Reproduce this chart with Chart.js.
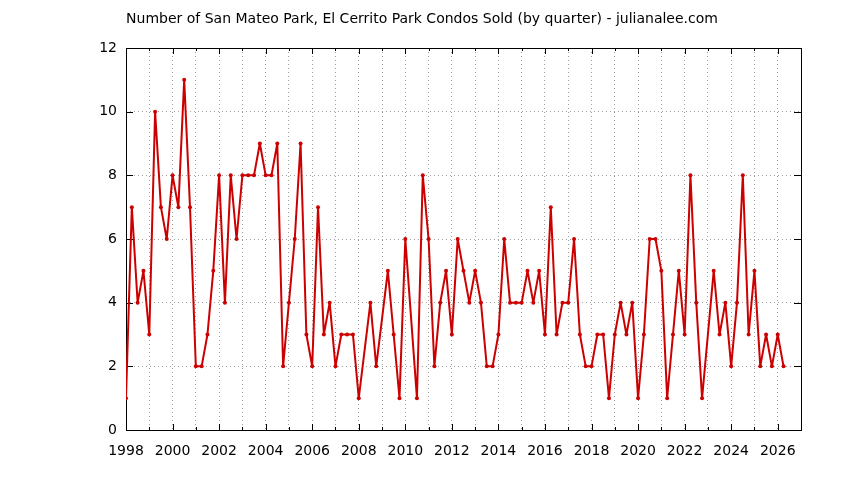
<!DOCTYPE html>
<html>
  <head>
    <meta charset="utf-8" />
    <title>Condos Sold</title>
    <script src="https://cdn.jsdelivr.net/npm/chart.js"></script>
    <style>
      body { margin: 0; background: #fff; }
    </style>
  </head>
  <body>
    <canvas id="soldChart" width="844" height="480"></canvas>
    <script>
      // Quarters that had sales (quarters with no row are just skipped, the line joins across them)
      var quarters = [
        "1998-Q1", "1998-Q2", "1998-Q3", "1998-Q4",
        "1999-Q1", "1999-Q2", "1999-Q3", "1999-Q4",
        "2000-Q1", "2000-Q2", "2000-Q3", "2000-Q4",
        "2001-Q1", "2001-Q2", "2001-Q3", "2001-Q4",
        "2002-Q1", "2002-Q2", "2002-Q3", "2002-Q4",
        "2003-Q1", "2003-Q2", "2003-Q3", "2003-Q4",
        "2004-Q1", "2004-Q2", "2004-Q3", "2004-Q4",
        "2005-Q1", "2005-Q2", "2005-Q3", "2005-Q4",
        "2006-Q1", "2006-Q2", "2006-Q3", "2006-Q4",
        "2007-Q1", "2007-Q2", "2007-Q3", "2007-Q4",
        "2008-Q1", "2008-Q3", "2008-Q4",
        "2009-Q2", "2009-Q3", "2009-Q4",
        "2010-Q1", "2010-Q3", "2010-Q4",
        "2011-Q1", "2011-Q2", "2011-Q3", "2011-Q4",
        "2012-Q1", "2012-Q2", "2012-Q3", "2012-Q4",
        "2013-Q1", "2013-Q2", "2013-Q3", "2013-Q4",
        "2014-Q1", "2014-Q2", "2014-Q3", "2014-Q4",
        "2015-Q1", "2015-Q2", "2015-Q3", "2015-Q4",
        "2016-Q1", "2016-Q2", "2016-Q3", "2016-Q4",
        "2017-Q1", "2017-Q2", "2017-Q3", "2017-Q4",
        "2018-Q1", "2018-Q2", "2018-Q3", "2018-Q4",
        "2019-Q1", "2019-Q2", "2019-Q3", "2019-Q4",
        "2020-Q1", "2020-Q2", "2020-Q3", "2020-Q4",
        "2021-Q1", "2021-Q2", "2021-Q3", "2021-Q4",
        "2022-Q1", "2022-Q2", "2022-Q3", "2022-Q4",
        "2023-Q2", "2023-Q3", "2023-Q4",
        "2024-Q1", "2024-Q2", "2024-Q3", "2024-Q4",
        "2025-Q1", "2025-Q2", "2025-Q3", "2025-Q4",
        "2026-Q1", "2026-Q2"
      ];

      var sold = [
        1, 7, 4, 5,
        3, 10, 7, 6,
        8, 7, 11, 7,
        2, 2, 3, 5,
        8, 4, 8, 6,
        8, 8, 8, 9,
        8, 8, 9, 2,
        4, 6, 9, 3,
        2, 7, 3, 4,
        2, 3, 3, 3,
        1, 4, 2,
        5, 3, 1,
        6, 1, 8,
        6, 2, 4, 5,
        3, 6, 5, 4,
        5, 4, 2, 2,
        3, 6, 4, 4,
        4, 5, 4, 5,
        3, 7, 3, 4,
        4, 6, 3, 2,
        2, 3, 3, 1,
        3, 4, 3, 4,
        1, 3, 6, 6,
        5, 1, 3, 5,
        3, 8, 4, 1,
        5, 3, 4,
        2, 4, 8, 3,
        5, 2, 3, 2,
        3, 2
      ];

      var xLabelYears = [1998, 2000, 2002, 2004, 2006, 2008, 2010, 2012, 2014, 2016, 2018, 2020, 2022, 2024, 2026];
      var yTickValues = [0, 2, 4, 6, 8, 10, 12];

      var titleText = "Number of San Mateo Park, El Cerrito Park Condos Sold (by quarter) - julianalee.com";

      // turn "1998-Q3" into 1998.5 so it sits on a linear year axis
      var points = quarters.map(function (q, i) {
        var parts = q.split("-Q");
        return { x: parseInt(parts[0]) + (parseInt(parts[1]) - 1) / 4, y: sold[i] };
      });

      var FONT = "'DejaVu Sans', Verdana, sans-serif";

      // gnuplot style box: solid border all round, ticks pointing inwards on every side
      var framePlugin = {
        id: "frame",
        beforeDatasetsDraw: function (chart) {
          var ctx = chart.ctx;
          var a = chart.chartArea;
          var xs = chart.scales.x;
          var ys = chart.scales.y;
          ctx.save();
          ctx.strokeStyle = "#000";
          ctx.lineWidth = 1;
          ctx.beginPath();
          for (var yr = xs.min; yr <= xs.max; yr++) {
            var px = Math.round(xs.getPixelForValue(yr)) + 0.5;
            var len = xLabelYears.indexOf(yr) >= 0 ? 6 : 3;
            ctx.moveTo(px, a.bottom);
            ctx.lineTo(px, a.bottom - len);
            ctx.moveTo(px, a.top);
            ctx.lineTo(px, a.top + len);
          }
          yTickValues.forEach(function (v) {
            var py = Math.round(ys.getPixelForValue(v)) + 0.5;
            ctx.moveTo(a.left, py);
            ctx.lineTo(a.left + 7, py);
            ctx.moveTo(a.right, py);
            ctx.lineTo(a.right - 7, py);
          });
          ctx.stroke();
          ctx.strokeRect(Math.round(a.left) + 0.5, Math.round(a.top) + 0.5,
            Math.round(a.right - a.left), Math.round(a.bottom - a.top));
          ctx.restore();
        }
      };

      new Chart(document.getElementById("soldChart"), {
        type: "line",
        data: {
          datasets: [
            {
              label: "Condos sold",
              data: points,
              borderColor: "#cc0000",
              backgroundColor: "#cc0000",
              borderWidth: 2,
              borderJoinStyle: "round",
              pointRadius: 2,
              pointHoverRadius: 2,
              pointBorderWidth: 0,
              tension: 0,
              fill: false
            }
          ]
        },
        options: {
          responsive: false,
          animation: false,
          layout: { padding: { left: 43, right: 43, top: 0, bottom: 0 } },
          plugins: {
            legend: { display: false },
            tooltip: { enabled: false },
            title: {
              display: true,
              text: titleText,
              color: "#000",
              font: { family: FONT, size: 14, weight: "normal", lineHeight: 1.2 },
              padding: { top: 11, bottom: 20.2 }
            }
          },
          scales: {
            x: {
              type: "linear",
              min: 1998,
              max: 2027,
              afterFit: function (scale) { scale.height = 50; },
              grid: { color: "#a0a0a0", drawTicks: false, lineWidth: 1 },
              border: { display: false, dash: [1, 3] },
              ticks: {
                stepSize: 1,
                autoSkip: false,
                maxRotation: 0,
                padding: 13,
                color: "#000",
                font: { family: FONT, size: 14 },
                callback: function (v) {
                  return xLabelYears.indexOf(v) >= 0 ? String(v) : "";
                }
              }
            },
            y: {
              min: 0,
              max: 12,
              afterFit: function (scale) { scale.width = 83; },
              grid: { color: "#a0a0a0", drawTicks: false, lineWidth: 1 },
              border: { display: false, dash: [1, 3] },
              ticks: {
                stepSize: 2,
                padding: 9,
                color: "#000",
                font: { family: FONT, size: 14 },
                callback: function (v) {
                  return yTickValues.indexOf(v) >= 0 ? String(v) : "";
                }
              }
            }
          }
        },
        plugins: [framePlugin]
      });
    </script>
  </body>
</html>
